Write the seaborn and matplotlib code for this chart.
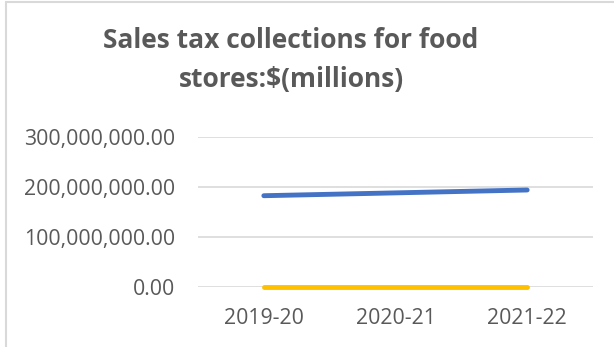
import matplotlib
matplotlib.use("Agg")
import matplotlib.pyplot as plt
import seaborn as sns
import pandas as pd
from matplotlib.ticker import FuncFormatter
from matplotlib.patches import Rectangle

categories = ["2019-20", "2020-21", "2021-22"]
sales_tax_dollars = [182700000, 188400000, 194200000]
sales_tax_millions = [182.7, 188.4, 194.2]
series_names = ["Dollars", "Millions"]
y_ticks = [0, 100000000, 200000000, 300000000]
title_lines = ["Sales tax collections for food", "stores:$(millions)"]

df = pd.DataFrame({
    "year": categories * 2,
    "value": sales_tax_dollars + sales_tax_millions,
    "series": [series_names[0]] * 3 + [series_names[1]] * 3,
})

sns.set_theme(style="white")
plt.rcParams["font.family"] = ["Open Sans", "DejaVu Sans"]

W, H = 614, 347
fig = plt.figure(figsize=(W / 100, H / 100), dpi=100)
ax = fig.add_axes([198 / W, 1 - 286.7 / H, (593 - 198) / W, (286.7 - 137.3) / H])

sns.lineplot(data=df, x="year", y="value", hue="series",
             palette=["#4472C4", "#FFC000"], linewidth=3.5,
             legend=False, ax=ax, sort=False, zorder=3,
             solid_capstyle="round", clip_on=False)

ax.set_xlim(-0.5, 2.5)
ax.set_ylim(0, 300000000)
ax.set_yticks(y_ticks)
ax.yaxis.set_major_formatter(FuncFormatter(lambda v, p: f"{v:,.2f}"))
ax.grid(axis="y", color="#D9D9D9", linewidth=1.2, zorder=0)
ax.grid(axis="x", visible=False)
for s in ax.spines.values():
    s.set_visible(False)
ax.set_xlabel("")
ax.set_ylabel("")
ax.tick_params(axis="both", length=0, labelsize=15.3, colors="#595959")
ax.tick_params(axis="y", pad=16.5)
ax.tick_params(axis="x", pad=15)

fig.text(291 / W, 1 - 48.5 / H, title_lines[0], ha="center", va="baseline",
         fontsize=19, fontweight="bold", color="#595959")
fig.text(291 / W, 1 - 86.5 / H, title_lines[1], ha="center", va="baseline",
         fontsize=19, fontweight="bold", color="#595959")

fig.patches.append(Rectangle((5.5 / W, -0.1), 1.2, 1.1 - 2.5 / H,
                             transform=fig.transFigure, fill=False,
                             edgecolor="#D9D9D9", linewidth=1.5))

fig.savefig("out.png", dpi=100, facecolor="white")
